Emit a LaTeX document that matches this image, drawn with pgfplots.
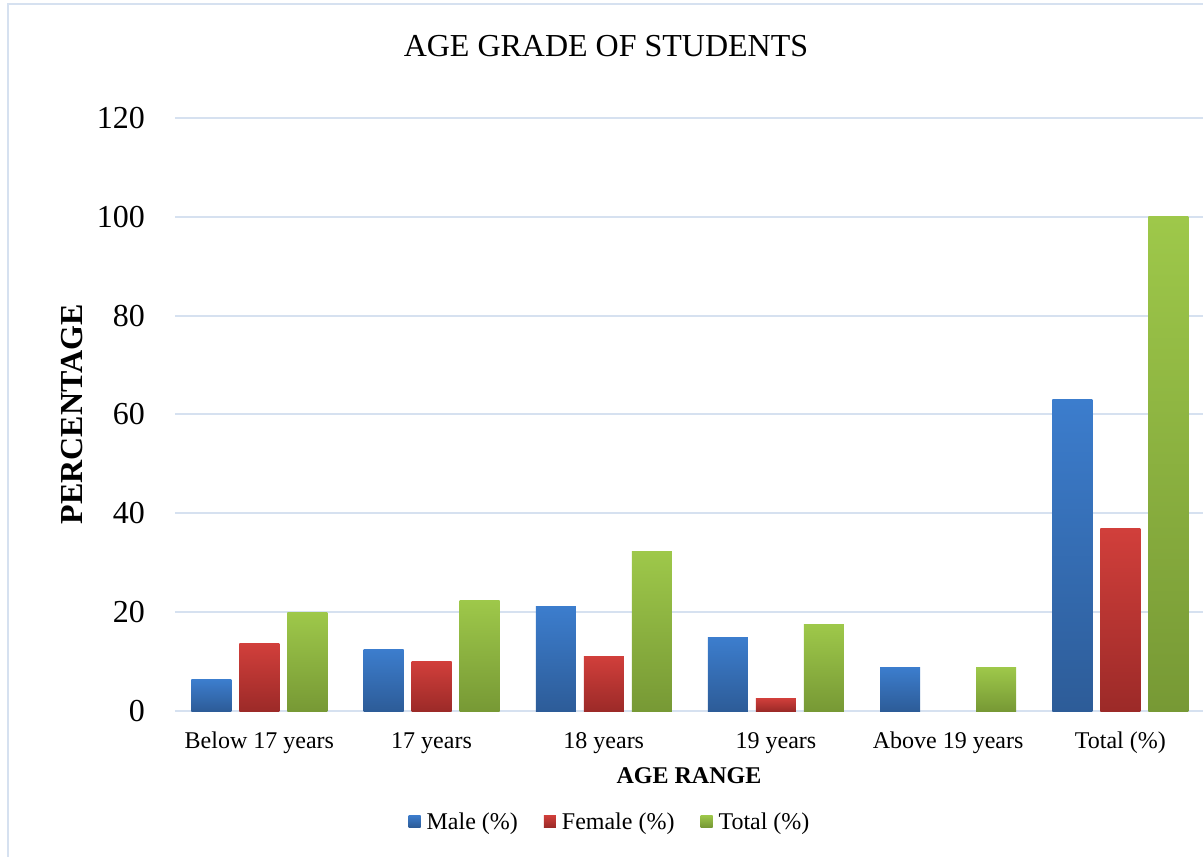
\documentclass[border=0pt]{standalone}
\usepackage{pgfplots}
\pgfplotsset{compat=1.18}
\usepackage{fontspec}
\setmainfont{Liberation Serif}
\definecolor{gridc}{HTML}{D6E1F0}
\definecolor{btop}{HTML}{3C7DCD}
\definecolor{bbot}{HTML}{2D5C98}
\definecolor{rtop}{HTML}{D13F3B}
\definecolor{rbot}{HTML}{9C2A28}
\definecolor{gtop}{HTML}{9EC84A}
\definecolor{gbot}{HTML}{779935}
\pgfplotsset{
  male/.style={draw=none, top color=btop, bottom color=bbot, bar shift=-48bp},
  female/.style={draw=none, top color=rtop, bottom color=rbot, bar shift=0bp},
  total/.style={draw=none, top color=gtop, bottom color=gbot, bar shift=48bp},
}
\begin{document}
\begin{tikzpicture}
\useasboundingbox (-175bp,-146bp) rectangle (1028bp,711bp);
\draw[gridc, line width=2.5bp] (-167bp,-200bp) -- (-167bp,707bp) -- (1100bp,707bp);
\begin{axis}[
  at={(0,0)}, anchor=south west, scale only axis,
  width=1028bp, height=593bp,
  ymin=0, ymax=120, ytick={0,20,...,120},
  xmin=-0.49, xmax=5.48,
  xtick={0,1,2,3,4,5},
  xticklabels={Below 17 years,17 years,18 years,19 years,Above 19 years,Total (\%)},
  axis line style={draw=none}, major tick length=0pt,
  ymajorgrids, major grid style={draw=gridc, line width=2bp},
  /pgf/number format/assume math mode=true,
  yticklabel style={font=\fontsize{32bp}{38bp}\selectfont, anchor=east, inner sep=0pt, xshift=-30bp},
  xticklabel style={font=\fontsize{24bp}{29bp}\selectfont, anchor=base, inner sep=0pt, yshift=-37bp},
  ylabel={PERCENTAGE},
  ylabel style={font=\bfseries\fontsize{32bp}{38bp}\selectfont, at={(axis description cs:-0.1002,0.5)}, anchor=center, rotate=0},
  xlabel={AGE RANGE},
  xlabel style={font=\bfseries\fontsize{24bp}{29bp}\selectfont, at={(axis description cs:0.5,-0.1096)}, anchor=center},
  ybar, bar width=40bp,
  legend style={at={(axis description cs:0.4232,-0.1872)}, anchor=center, draw=none, fill=none,
    legend columns=3, font=\fontsize{24bp}{29bp}\selectfont,
    /tikz/every odd column/.append style={column sep=4bp},
    /tikz/every even column/.append style={column sep=24bp}},
  legend image code/.code={\path[#1] (0bp,-5bp) rectangle (12bp,7bp);},
]
% Male (%)
\addplot[male] coordinates {(0,6.3)};
\addplot[female] coordinates {(0,13.6)};
\addplot[total] coordinates {(0,19.9)};
\legend{Male (\%), Female (\%), Total (\%)}
\addplot[male, forget plot] coordinates {(1,12.4)};
\addplot[male, forget plot] coordinates {(2,21.1)};
\addplot[male, forget plot] coordinates {(3,14.8)};
\addplot[male, forget plot] coordinates {(4,8.8)};
\addplot[male, forget plot] coordinates {(5,63)};
% Female (%)
\addplot[female, forget plot] coordinates {(1,10.0)};
\addplot[female, forget plot] coordinates {(2,11.1)};
\addplot[female, forget plot] coordinates {(3,2.6)};
\addplot[female, forget plot] coordinates {(5,37)};
% Total (%)
\addplot[total, forget plot] coordinates {(1,22.4)};
\addplot[total, forget plot] coordinates {(2,32.3)};
\addplot[total, forget plot] coordinates {(3,17.5)};
\addplot[total, forget plot] coordinates {(4,8.8)};
\addplot[total, forget plot] coordinates {(5,100)};
\end{axis}
\node[font=\fontsize{32bp}{38bp}\selectfont, anchor=base] at (431bp,654bp) {AGE GRADE OF STUDENTS};
\end{tikzpicture}
\end{document}
